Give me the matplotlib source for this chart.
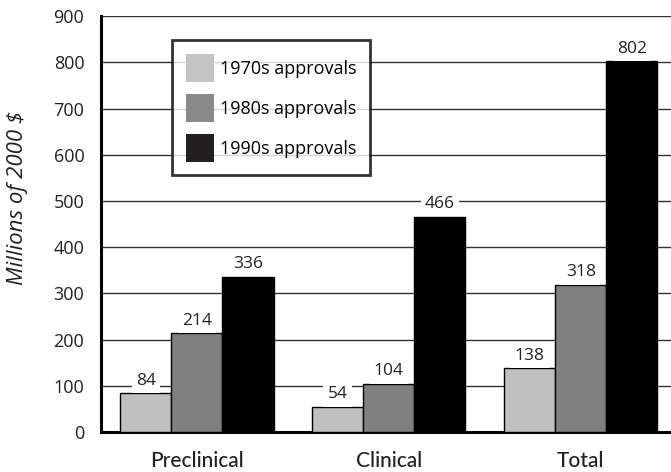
import matplotlib
matplotlib.use("Agg")
import matplotlib.pyplot as plt
import numpy as np
from matplotlib.patches import Patch

categories = ["Preclinical", "Clinical", "Total"]
series_names = ["1970s approvals", "1980s approvals", "1990s approvals"]
v1970 = [84, 54, 138]
v1980 = [214, 104, 318]
v1990 = [336, 466, 802]
colors = ["#c0c0c0", "#808080", "#000000"]
legend_colors = ["#c4c4c4", "#8a8a8a", "#231f20"]
yticks = [0, 100, 200, 300, 400, 500, 600, 700, 800, 900]

plt.rcParams['font.family'] = ['Open Sans', 'DejaVu Sans']

fig = plt.figure(figsize=(6.71, 4.72), dpi=100)
ax = fig.add_axes([0.1505, 0.0847, 0.8495, 0.881])

x = np.arange(len(categories))
w = 0.266
series = [v1970, v1980, v1990]
for i, vals in enumerate(series):
    pos = x + (i - 1) * w
    ax.bar(pos, vals, width=w, color=colors[i], edgecolor="black",
           linewidth=1.0, zorder=3)
    for xp, v in zip(pos, vals):
        ax.text(xp, v + 10, str(v), ha="center", va="bottom", fontsize=12.5,
                color="#222222", zorder=4,
                bbox=dict(boxstyle="square,pad=0.25", fc="white", ec="none"))

ax.set_xlim(-0.5, 2.47)
ax.set_ylim(0, 900)
ax.set_yticks(yticks)
ax.yaxis.grid(True, color="#333333", linewidth=1.0, zorder=0)
ax.set_axisbelow(True)
ax.tick_params(axis="y", length=0, labelsize=13, pad=12)
ax.tick_params(axis="x", length=0, pad=14)
ax.set_xticks(x)
ax.set_xticklabels(categories, fontsize=15, fontweight=500,
                   family=["Lato", "Open Sans", "DejaVu Sans"], color="#222222")
for lab in ax.get_yticklabels():
    lab.set_color("#222222")

ax.spines["top"].set_visible(False)
ax.spines["right"].set_visible(False)
ax.spines["left"].set_linewidth(2.2)
ax.spines["bottom"].set_linewidth(2.2)

fig.text(18 / 671, 1 - 198 / 472, "Millions of 2000 $", rotation=90,
         ha="center", va="center", fontsize=16, fontstyle="italic",
         color="#222222")

handles = [Patch(facecolor=c, edgecolor="none") for c in legend_colors]
leg = ax.legend(handles, series_names, loc="upper left",
                bbox_to_anchor=(0.1246, 0.942), fontsize=13,
                frameon=True, fancybox=False, handlelength=1.6,
                handleheight=2.0, labelspacing=0.67, borderpad=0.75,
                handletextpad=0.3, borderaxespad=0)
leg.get_frame().set_edgecolor("black")
leg.get_frame().set_linewidth(2.0)
leg.set_zorder(5)

fig.savefig("out.png", dpi=100)
